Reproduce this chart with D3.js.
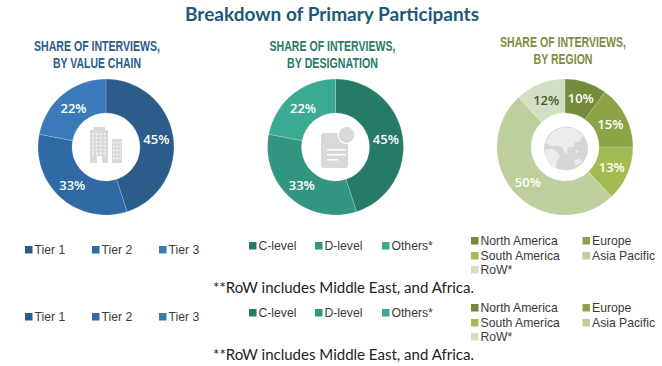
<!DOCTYPE html>
<html>
<head>
<meta charset="utf-8">
<script src="https://cdn.jsdelivr.net/npm/d3@7"></script>
<style>
	html, body { margin: 0; padding: 0; background: #fff; }
	svg { display: block; }
	.main-title { font: bold 18.5px Lato, sans-serif; fill: #1b5a78; }
	.chart-title { font: bold 15.5px "Liberation Sans", sans-serif; text-anchor: middle; }
	.slice-label { font: 600 13px "Open Sans", sans-serif; text-anchor: middle; dominant-baseline: central; }
	.legend-label { font: 12.2px "Liberation Sans", sans-serif; fill: #3a3a3a; }
	.note { font: 15.5px Lato, sans-serif; fill: #222; }
</style>
</head>
<body>
<div id="chart"></div>
<script>
const value_chain_labels = ['Tier 1', 'Tier 2', 'Tier 3'];
const value_chain_values = [45, 33, 22];
const value_chain_colors = ['#2b5c8a', '#2f6aa5', '#3a7ab8'];

const designation_labels = ['C-level', 'D-level', 'Others*'];
const designation_values = [45, 33, 22];
const designation_colors = ['#267a68', '#339681', '#3baa92'];

const region_labels = ['North America', 'Europe', 'South America', 'Asia Pacific', 'RoW*'];
const region_values = [10, 15, 13, 50, 12];
const region_colors = ['#748a3c', '#8ca347', '#a2bc53', '#bdcf9b', '#d3dfc3'];

const note_text = '**RoW includes Middle East, and Africa.';
const LEGEND_COPY_OFFSET = 67;
const ICON_COLOR = '#d9d9d9';

const svg = d3.select('#chart').append('svg')
	.attr('width', 662)
	.attr('height', 366);

svg.append('text')
	.attr('class', 'main-title')
	.attr('x', 185)
	.attr('y', 21)
	.attr('textLength', 294)
	.attr('lengthAdjust', 'spacingAndGlyphs')
	.text('Breakdown of Primary Participants');

const pie = d3.pie().sort(null);
const arc = d3.arc().innerRadius(34).outerRadius(68);

/**
 * Draw one doughnut with its two line heading. The heading font is squeezed to the
 * measured line widths because no condensed face is installed.
 */
function drawDoughnut({cx, title_x, title_y, title_color, lines, line_widths, values, colors, dark_labels}) {
	lines.forEach((line, i) => {
		const title = svg.append('text')
			.attr('class', 'chart-title')
			.style('fill', title_color)
			.text(line);

		const scale_x = line_widths[i] / title.node().getComputedTextLength();

		title.attr('transform', `translate(${title_x} ${title_y + i * 17}) scale(${scale_x} 1)`);
	});

	const g = svg.append('g').attr('transform', `translate(${cx} 147)`);

	const slices = g.selectAll('g')
		.data(pie(values))
		.enter()
		.append('g');

	slices.append('path')
		.attr('d', arc)
		.style('fill', (d, i) => colors[i])
		.style('stroke', 'rgba(255, 255, 255, 0.3)')
		.style('stroke-width', 0.6);

	slices.append('text')
		.attr('class', 'slice-label')
		.attr('transform', d => `translate(${arc.centroid(d)})`)
		.style('fill', (d, i) => dark_labels.includes(i) ? '#4d5c2b' : '#fff')
		.text(d => `${d.data}%`);

	return g;
}

/**
 * Draw a legend from label rows at the given positions.
 */
function drawLegend(items, offset_y) {
	const g = svg.append('g').attr('transform', `translate(0 ${offset_y})`);

	items.forEach(({label, color, x, y}) => {
		g.append('rect')
			.attr('x', x)
			.attr('y', y - 8)
			.attr('width', 7.5)
			.attr('height', 7.5)
			.style('fill', color);

		g.append('text')
			.attr('class', 'legend-label')
			.attr('x', x + 9.5)
			.attr('y', y)
			.text(label);
	});
}

function drawBuildings(g) {
	const icon = g.append('g').style('fill', ICON_COLOR);

	icon.append('path').attr('d', 'M-16 -17 H-13 V-20 H-1 V-17 H2 V16 H-4 V9 H-9 V16 H-16 Z');
	icon.append('path').attr('d', 'M6 -8 H16 V16 H6 Z');

	for (let row = 0; row < 6; row++) {
		for (let col = 0; col < 4; col++) {
			icon.append('rect')
				.attr('x', -14 + col * 3.9)
				.attr('y', -14 + row * 3.9)
				.attr('width', 1.8)
				.attr('height', 1.9)
				.style('fill', '#f6f6f6');
		}
	}

	for (let row = 0; row < 5; row++) {
		for (let col = 0; col < 3; col++) {
			icon.append('rect')
				.attr('x', 7.3 + col * 3)
				.attr('y', -5.5 + row * 4)
				.attr('width', 1.6)
				.attr('height', 1.9)
				.style('fill', '#f6f6f6');
		}
	}
}

function drawDocument(g) {
	const icon = g.append('g').style('fill', ICON_COLOR);

	icon.append('rect')
		.attr('x', -14.5)
		.attr('y', -14)
		.attr('width', 27)
		.attr('height', 35)
		.attr('rx', 3);

	icon.append('circle')
		.attr('cx', 11)
		.attr('cy', -12)
		.attr('r', 8.5)
		.style('stroke', '#fff')
		.style('stroke-width', 1.2);

	[2, 7, 12].forEach((y, i) => {
		icon.append('rect')
			.attr('x', -8.5)
			.attr('y', y)
			.attr('width', i === 2 ? 11 : 18.5)
			.attr('height', 1.5)
			.style('fill', '#fff');
	});
}

function drawGlobe(g) {
	const icon = g.append('g').attr('transform', 'translate(1 1.5)');

	icon.append('circle')
		.attr('r', 22)
		.style('fill', '#d6d6d6');

	// Eurasia, across the top of the sphere
	icon.append('path')
		.attr('d', 'M-21 -6 L-13 -17 L-3 -21.5 L8 -20 L17 -13 L14 -7 L9 -6 L7 -1 L3 -2 L0 6 L-4 -1 L-9 -3 L-15 -2 Z')
		.style('fill', '#ececec');

	// Africa, lower left
	icon.append('path')
		.attr('d', 'M-21 1 L-14 0 L-9 3 L-6 8 L-9 13 L-10 20 L-15 18 L-20 9 Z')
		.style('fill', '#ececec');

	// Australia and islands, lower right
	icon.append('path')
		.attr('d', 'M8 12 L14 10 L16 14 L10 17 Z M9 1 L13 3 L10 5 Z')
		.style('fill', '#ececec');
}

drawBuildings(drawDoughnut({
	cx: 106,
	title_x: 97,
	title_y: 51,
	title_color: '#2b5c8a',
	lines: ['SHARE OF INTERVIEWS,', 'BY VALUE CHAIN'],
	line_widths: [126, 88],
	values: value_chain_values,
	colors: value_chain_colors,
	dark_labels: []
}));

drawDocument(drawDoughnut({
	cx: 335.5,
	title_x: 332.5,
	title_y: 51,
	title_color: '#2b7a68',
	lines: ['SHARE OF INTERVIEWS,', 'BY DESIGNATION'],
	line_widths: [126, 91],
	values: designation_values,
	colors: designation_colors,
	dark_labels: []
}));

drawGlobe(drawDoughnut({
	cx: 565,
	title_x: 563,
	title_y: 47,
	title_color: '#7a8f40',
	lines: ['SHARE OF INTERVIEWS,', 'BY REGION'],
	line_widths: [126, 59],
	values: region_values,
	colors: region_colors,
	dark_labels: [4]
}));

const value_chain_x = [25, 92, 159];
const designation_x = [249, 315, 382];
const region_x = [471, 582.5, 471, 582.5, 471];
const region_y = [245, 245, 260, 260, 274];

const legend_items = [
	...value_chain_labels.map((label, i) => ({label, color: value_chain_colors[i], x: value_chain_x[i], y: 254})),
	...designation_labels.map((label, i) => ({label, color: designation_colors[i], x: designation_x[i], y: 250})),
	...region_labels.map((label, i) => ({label, color: region_colors[i], x: region_x[i], y: region_y[i]}))
];

[0, LEGEND_COPY_OFFSET].forEach(offset => {
	drawLegend(legend_items, offset);

	svg.append('text')
		.attr('class', 'note')
		.attr('x', 213)
		.attr('y', 292.5 + offset)
		.attr('textLength', 261)
		.attr('lengthAdjust', 'spacingAndGlyphs')
		.text(note_text);
});
</script>
</body>
</html>
